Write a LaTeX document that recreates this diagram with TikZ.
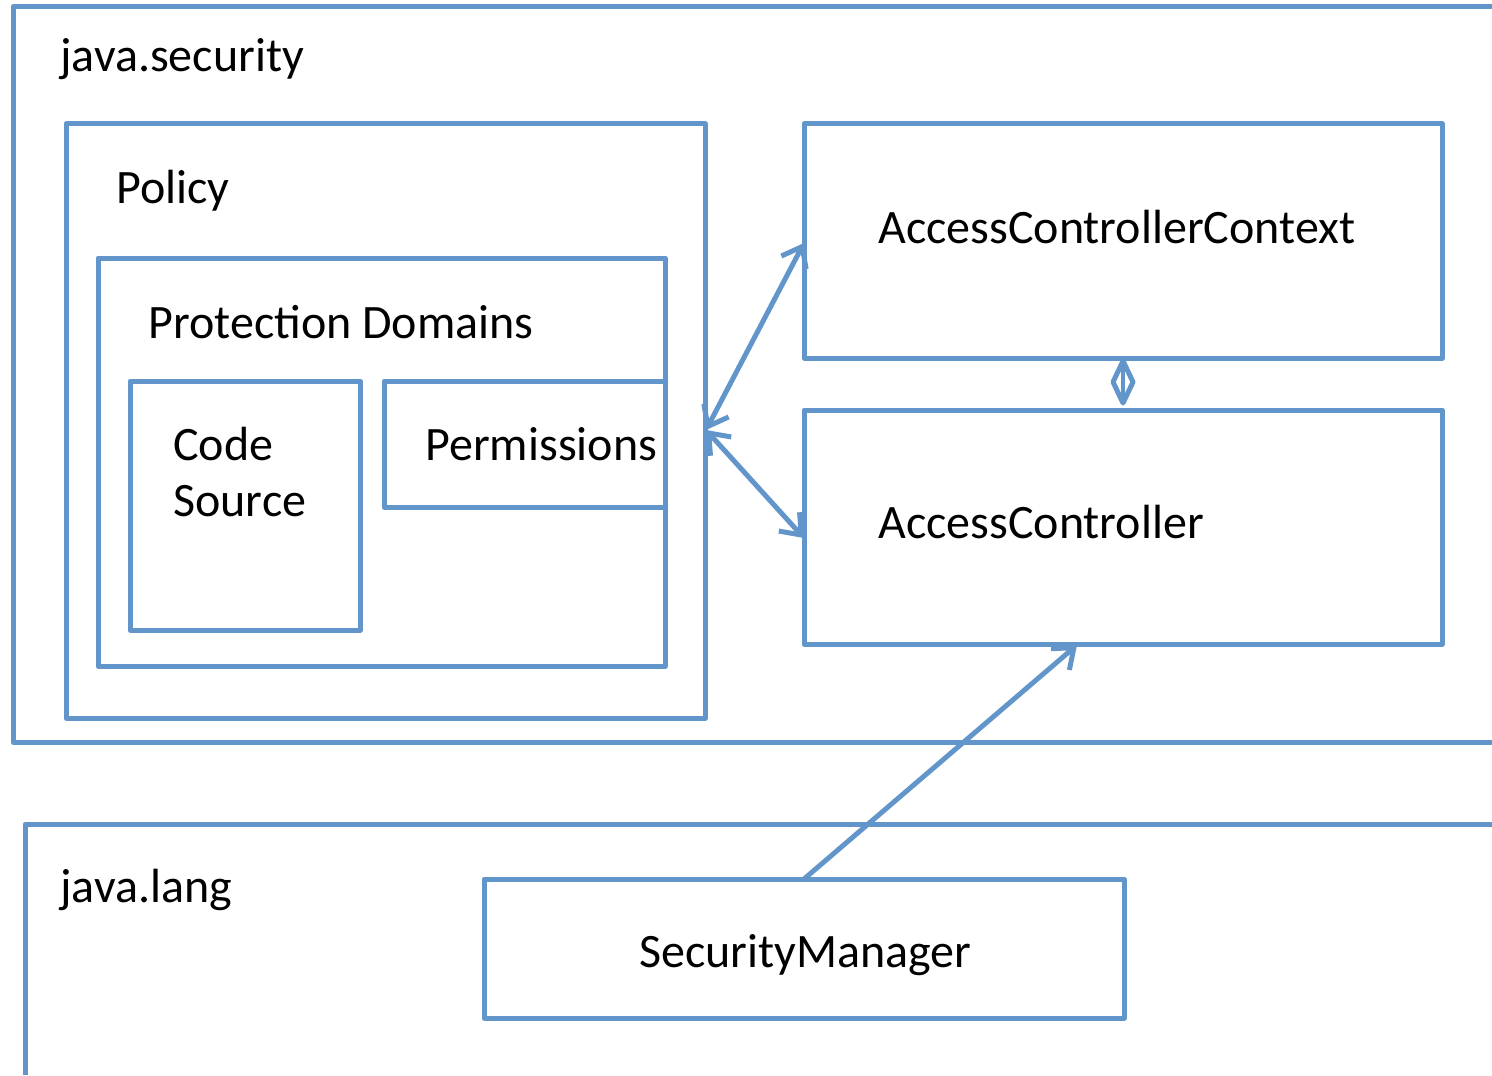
\documentclass[tikz,border=0pt]{standalone}
\usepackage{fontspec}
\setmainfont{Carlito}
\usetikzlibrary{arrows.meta}
\definecolor{boxblue}{RGB}{98,150,203}
\begin{document}
\begin{tikzpicture}[x=0.5pt,y=-0.5pt,
  frame/.style={draw=boxblue,line width=2.5pt,line join=round},
  box/.style={frame,inner sep=0pt,outer sep=0pt,anchor=north west},
  lbl/.style={anchor=base west,inner sep=0pt,font=\fontsize{24}{29}\selectfont},
  conn/.style={draw=boxblue,line width=2.5pt,{Straight Barb[length=9pt,width=14pt,line width=2.5pt]}-{Straight Barb[length=9pt,width=14pt,line width=2.5pt]}},
  oneway/.style={draw=boxblue,line width=2.5pt,-{Straight Barb[length=9pt,width=14pt,line width=2.5pt]}}]
\useasboundingbox (0,0) rectangle (1492,1075);
% outer packages
\draw[frame] (1492,7) -- (13,7) -- (13,742) -- (1492,742);
\draw[frame] (1492,824) -- (25,824) -- (25,1075);
\node[lbl] (jsec) at (60,72) {java.security};
\node[lbl] (jlang) at (60,902) {java.lang};
% boxes
\node[box,minimum width=319.5pt,minimum height=297pt] (policy) at (66,124) {};
\node[box,minimum width=283.5pt,minimum height=204pt] (pd) at (98,258) {};
\node[box,minimum width=115pt,minimum height=124.5pt] (cs) at (130,381) {};
\node[box,minimum width=140.5pt,minimum height=63pt] (perm) at (384,381) {};
\node[box,minimum width=319pt,minimum height=117pt] (acc) at (804,124) {};
\node[box,minimum width=319pt,minimum height=117pt] (ac) at (804,410) {};
\node[box,minimum width=320pt,minimum height=69.5pt] (sm) at (484,879) {};
% labels
\node[lbl] (tpolicy) at (116,204) {Policy};
\node[lbl] (tpd) at (148,338) {Protection Domains};
\node[lbl] (tcode) at (173,460) {Code};
\node[lbl] (tsrc) at (173,516) {Source};
\node[lbl] (tperm) at (425,460) {Permissions};
\node[lbl] (tacc) at (878,243) {AccessControllerContext};
\node[lbl] (tac) at (878,538) {AccessController};
\node[lbl] (tsm) at (639,967) {SecurityManager};
% connectors
\coordinate (pj) at (706,430);
\coordinate (accin) at (804,243);
\coordinate (acin) at (804,538);
\coordinate (smtop) at (804,879);
\coordinate (acbot) at (1077,645);
\draw[conn] (pj) -- (accin);
\draw[conn] (pj) -- (acin);
\draw[oneway] (smtop) -- (acbot);
% diamond link
\coordinate (dtop) at (1123,361);
\coordinate (dbot) at (1123,403);
\draw[draw=boxblue,line width=2.5pt,line join=round] (dtop) -- (1133,382) -- (dbot) -- (1113,382) -- cycle;
\draw[draw=boxblue,line width=2pt] (dtop) -- (dbot);
\end{tikzpicture}
\end{document}
